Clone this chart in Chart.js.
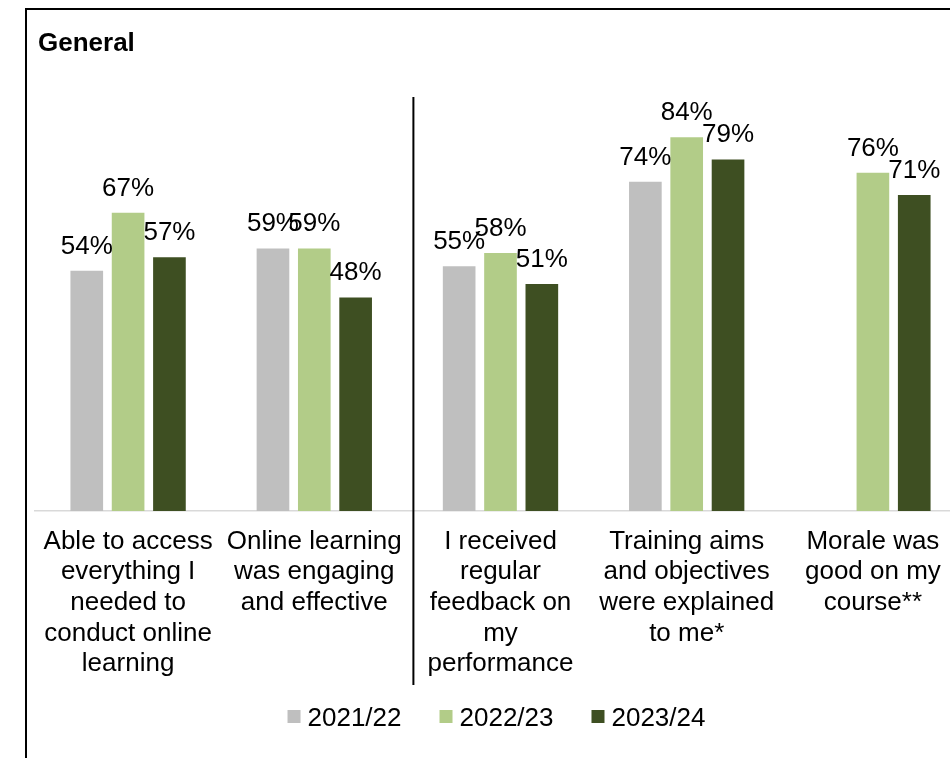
<!DOCTYPE html>
<html lang="en">

<head>
    <meta charset="UTF-8">
    <title>General</title>
    <script src="https://cdn.jsdelivr.net/npm/chart.js@4.4.1/dist/chart.umd.min.js"></script>
    <style>
        html, body {
            margin: 0;
            padding: 0;
            overflow: hidden;
            background: #fff;
        }

        .frame {
            position: absolute;
            left: 25px;
            top: 8px;
            width: 1000px;
            height: 900px;
            border: 2px solid #000;
        }

        .wrap {
            position: absolute;
            left: 0;
            top: 0;
            width: 966px;
            height: 758px;
        }
    </style>
</head>

<body>
    <div class="frame"></div>
    <div class="wrap">
        <canvas id="chartCanvas"></canvas>
    </div>
    <script>
        const FONT = '"Liberation Sans", Arial, sans-serif';

        let categories = [
            ["Able to access", "everything I", "needed to", "conduct online", "learning"],
            ["Online learning", "was engaging", "and effective"],
            ["I received", "regular", "feedback on", "my", "performance"],
            ["Training aims", "and objectives", "were explained", "to me*"],
            ["Morale was", "good on my", "course**"]
        ];
        let years = ["2021/22", "2022/23", "2023/24"];
        let y2021 = [54, 59, 55, 74, null];
        let y2022 = [67, 59, 58, 84, 76];
        let y2023 = [57, 48, 51, 79, 71];

        // percent labels sitting above each bar
        const valueLabels = {
            id: 'valueLabels',
            afterDatasetsDraw(chart) {
                const ctx = chart.ctx;
                ctx.save();
                ctx.font = '26px ' + FONT;
                ctx.fillStyle = '#000';
                ctx.textAlign = 'center';
                ctx.textBaseline = 'alphabetic';
                chart.data.datasets.forEach((ds, i) => {
                    chart.getDatasetMeta(i).data.forEach((bar, j) => {
                        let v = ds.data[j];
                        if (v == null) return;
                        ctx.fillText(v + '%', bar.x, bar.y - 17);
                    });
                });
                ctx.restore();
            }
        };

        // heading, divider between the two question sets, and the year key
        const decor = {
            id: 'decor',
            afterDraw(chart) {
                const ctx = chart.ctx;
                const xs = chart.scales.x;
                const area = chart.chartArea;
                ctx.save();
                ctx.font = 'bold 26px ' + FONT;
                ctx.fillStyle = '#000';
                ctx.textAlign = 'left';
                ctx.textBaseline = 'alphabetic';
                ctx.fillText('General', 38, 51);

                let dx = (xs.getPixelForValue(1) + xs.getPixelForValue(2)) / 2 + 6;
                ctx.strokeStyle = '#000';
                ctx.lineWidth = 2;
                ctx.beginPath();
                ctx.moveTo(dx, 97);
                ctx.lineTo(dx, 685);
                ctx.stroke();

                // legend: square, small gap, label
                ctx.font = '26px ' + FONT;
                let box = 13, gap = 7, spacing = 38;
                let widths = chart.data.datasets.map(ds => box + gap + ctx.measureText(ds.label).width);
                let total = widths.reduce((a, b) => a + b, 0) + spacing * (widths.length - 1);
                let lx = (area.left + area.right) / 2 - total / 2 - 4;
                let ly = 716.5;
                chart.data.datasets.forEach((ds, i) => {
                    ctx.fillStyle = ds.backgroundColor;
                    ctx.fillRect(lx, ly - box / 2, box, box);
                    ctx.fillStyle = '#000';
                    ctx.fillText(ds.label, lx + box + gap, ly + 9);
                    lx += widths[i] + spacing;
                });
                ctx.restore();
            }
        };

        let mychart = document.getElementById("chartCanvas").getContext('2d');
        let chart = new Chart(mychart, {
            type: "bar",
            data: {
                labels: categories,
                datasets: [
                    {
                        label: years[0],
                        data: y2021,
                        backgroundColor: "#bfbfbf"
                    },
                    {
                        label: years[1],
                        data: y2022,
                        backgroundColor: "#b2cc88"
                    },
                    {
                        label: years[2],
                        data: y2023,
                        backgroundColor: "#3e4f22"
                    }
                ]
            },
            options: {
                responsive: true,
                maintainAspectRatio: false,
                animation: false,
                categoryPercentage: 0.666,
                barPercentage: 0.79,
                layout: {
                    padding: { left: 35, right: 0, top: 66, bottom: 0 }
                },
                plugins: {
                    legend: { display: false },
                    title: { display: false },
                    tooltip: { enabled: false }
                },
                scales: {
                    x: {
                        grid: { display: false, drawTicks: false },
                        border: { color: '#d9d9d9', width: 1.5 },
                        ticks: {
                            color: '#000',
                            padding: 15,
                            maxRotation: 0,
                            autoSkip: false,
                            font: { size: 26, family: FONT, lineHeight: 1.18 }
                        },
                        afterFit: (s) => { s.height = 247; }
                    },
                    y: {
                        display: false,
                        min: 0,
                        max: 100
                    }
                }
            },
            plugins: [valueLabels, decor]
        });
    </script>
</body>

</html>
